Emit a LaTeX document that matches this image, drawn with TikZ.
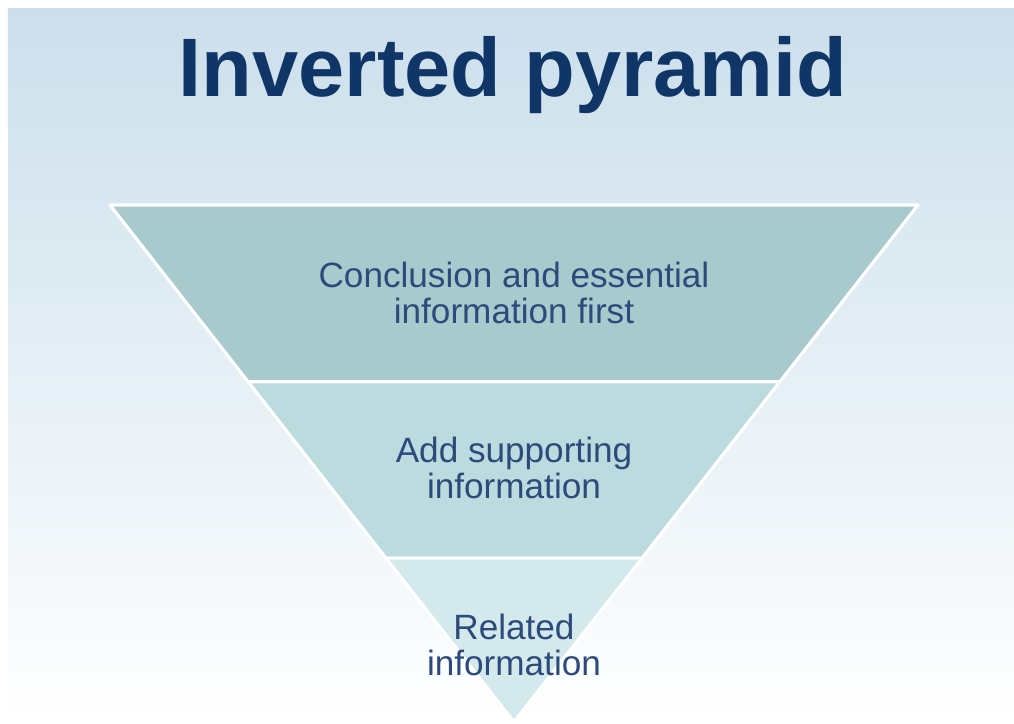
\documentclass[tikz,border=0pt]{standalone}
\usepackage{fontspec}
\setmainfont{Liberation Sans}
\usetikzlibrary{calc}
\definecolor{navy}{HTML}{103668}
\definecolor{inkblue}{HTML}{2C4B7C}
\definecolor{skytop}{HTML}{CBDFEB}
\definecolor{skymid}{HTML}{E2ECF4}
\definecolor{bandA}{HTML}{A8CACC}
\definecolor{bandB}{HTML}{BCDBDE}
\definecolor{bandC}{HTML}{D3E9EC}

\begin{document}
\begin{tikzpicture}[x=.1mm,y=-.1mm,
  band/.style={draw=white,line width=.9pt,line join=round},
  label/.style={text=inkblue,align=center,font=\fontsize{10}{10.2}\selectfont}]
\useasboundingbox (0,0) rectangle (1014,723);
\shade[top color=skytop,middle color=skymid,bottom color=white] (8,8) rectangle (1014,723);
\coordinate (tl) at (110,205);
\coordinate (tr) at (918,205);
\coordinate (apex) at (514,722);
\foreach \a/\b/\col in {0/.342/bandA,.342/.683/bandB,.683/1/bandC}{
\draw[band,fill=\col] ($(tl)!\a!(apex)$) -- ($(tr)!\a!(apex)$) -- ($(tr)!\b!(apex)$) -- ($(tl)!\b!(apex)$) -- cycle;}
\node[anchor=base,text=navy,font=\fontsize{23.6}{28}\selectfont\bfseries] (title) at (513,96) {Inverted pyramid};
\node[label] (essential) at (514,293) {Conclusion and essential\\information first};
\node[label] (support) at (514,468) {Add supporting\\information};
\node[label] (related) at (514,645) {Related\\information};
\end{tikzpicture}
\end{document}
